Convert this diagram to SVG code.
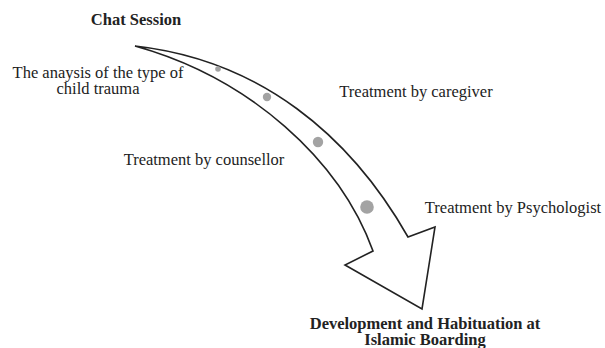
<svg xmlns="http://www.w3.org/2000/svg" width="605" height="348" viewBox="0 0 605 348">
<style>
.t{font-family:"Liberation Serif","Times New Roman",serif;font-size:16.5px;fill:#222;}
.b{font-weight:bold;}
.dot{fill:#a3a3a3;}
</style>
<rect width="605" height="348" fill="#fff"/>
<g id="connectors">
<path id="arrow" d="M135,46 C260,60 350,135 408,237 L435,227 L422,309 L345,265 L373,251 C340,160 250,78 135,46 Z" fill="#fff" stroke="#222" stroke-width="1.6" stroke-linejoin="miter"/>
</g>
<g id="dots">
<circle class="dot" cx="218" cy="69" r="2.8"/>
<circle class="dot" cx="267" cy="97" r="4.2"/>
<circle class="dot" cx="318" cy="142" r="5.2"/>
<circle class="dot" cx="367" cy="207" r="6.8"/>
</g>
<g id="chat"><text class="t b" x="136" y="25" text-anchor="middle">Chat Session</text></g>
<g id="analysis"><text class="t" x="98" y="78" text-anchor="middle">The anaysis of the type of</text><text class="t" x="98" y="94" text-anchor="middle">child trauma</text></g>
<g id="counsellor"><text class="t" x="204" y="165" text-anchor="middle">Treatment by counsellor</text></g>
<g id="caregiver"><text class="t" x="416" y="97" text-anchor="middle">Treatment by caregiver</text></g>
<g id="psychologist"><text class="t" x="513" y="213" text-anchor="middle">Treatment by Psychologist</text></g>
<g id="development"><text class="t b" x="425" y="329" text-anchor="middle">Development and Habituation at</text><text class="t b" x="425" y="345" text-anchor="middle">Islamic Boarding</text></g>
</svg>
